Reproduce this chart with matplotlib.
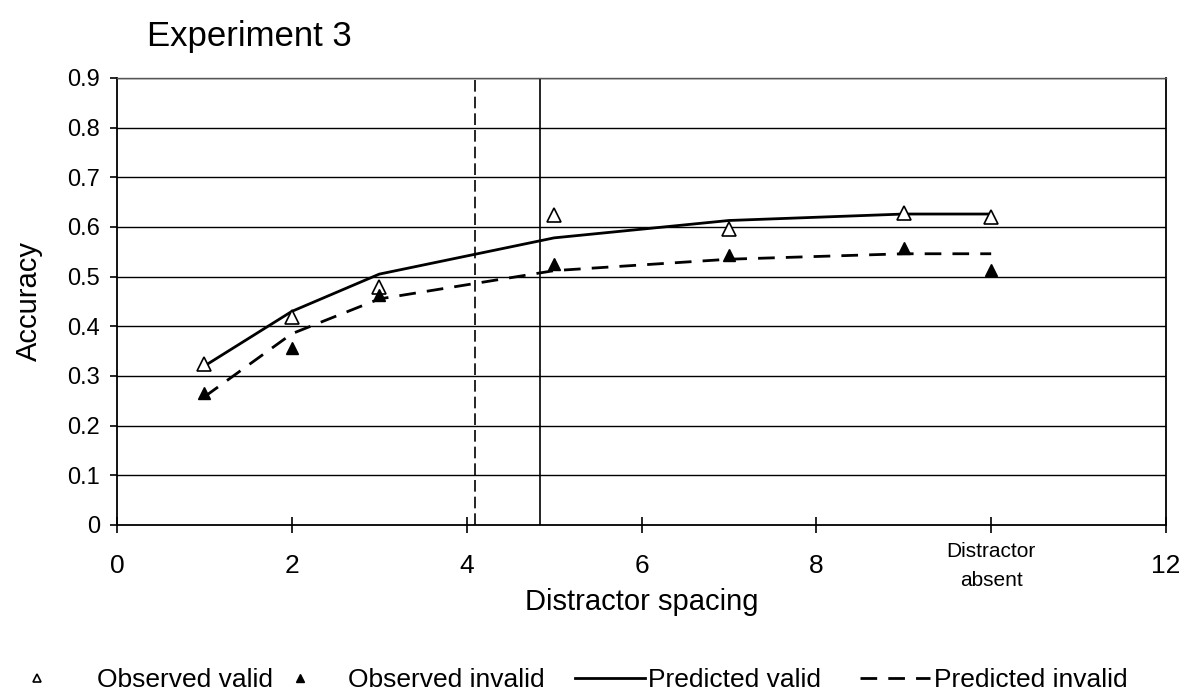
import matplotlib
matplotlib.use('Agg')
import matplotlib.pyplot as plt

plt.rcParams['font.family'] = ['Liberation Sans', 'DejaVu Sans']

# distractor spacing (10 = distractor absent)
x_obs = [1, 2, 3, 5, 7, 9, 10]
obs_valid = [0.325, 0.418, 0.48, 0.625, 0.596, 0.628, 0.620]
obs_invalid = [0.266, 0.356, 0.462, 0.525, 0.543, 0.557, 0.513]
pred_valid = [0.320, 0.430, 0.505, 0.578, 0.613, 0.626, 0.626]
pred_invalid = [0.258, 0.385, 0.455, 0.512, 0.535, 0.546, 0.546]

# critical spacing estimates
crit_dashed = 4.1
crit_solid = 4.84

xticks = [0, 2, 4, 6, 8, 10, 12]
xticklabels = ['0', '2', '4', '6', '8', 'Distractor\nabsent', '12']
yticks = [0, 0.1, 0.2, 0.3, 0.4, 0.5, 0.6, 0.7, 0.8, 0.9]

fig = plt.figure(figsize=(11.87, 6.98), dpi=100)
ax = fig.add_axes([0.0986, 0.248, 0.8837, 0.6403])

for y in yticks[1:]:
    ax.axhline(y, color='black', lw=1.0, zorder=1)

ax.plot([crit_dashed, crit_dashed], [0, 0.9], color='black', lw=1.2,
        dashes=(7, 3), zorder=2)
ax.plot([crit_solid, crit_solid], [0, 0.9], color='black', lw=1.2, zorder=2)

l_pv, = ax.plot(x_obs, pred_valid, '-', color='black', lw=2.0, zorder=3,
                label='Predicted valid')
l_pi, = ax.plot(x_obs, pred_invalid, color='black', lw=2.0, dashes=(6, 4),
                zorder=3, label='Predicted invalid')
m_ov, = ax.plot(x_obs, obs_valid, '^', ls='none', ms=10, mfc='white',
                mec='black', mew=1.2, zorder=4, label='Observed valid')
m_oi, = ax.plot(x_obs, obs_invalid, '^', ls='none', ms=9, color='black',
                zorder=4, label='Observed invalid')

ax.set_xlim(0, 12)
ax.set_ylim(0, 0.9)
ax.set_xticks(xticks)
ax.set_xticklabels(xticklabels)
ax.set_yticks(yticks)
ax.set_yticklabels(['0'] + ['%.1f' % v for v in yticks[1:]])
ax.tick_params(axis='y', direction='out', length=5, width=1.2, labelsize=17, pad=7)
ax.tick_params(axis='x', direction='inout', length=11, width=1.2, labelsize=19, pad=24)
for lab in ax.get_xticklabels():
    lab.set_va('center')
    if 'Distractor' in lab.get_text():
        lab.set_fontsize(15)
        lab.set_linespacing(1.7)

for s in ax.spines.values():
    s.set_linewidth(1.3)
ax.spines['top'].set_linewidth(1.0)
ax.spines['top'].set_color('#555555')

ax.set_xlabel('Distractor spacing', fontsize=21, va='center')
ax.xaxis.set_label_coords(0.5, -0.172)
ax.set_ylabel('Accuracy', fontsize=21, labelpad=18)

fig.text(0.124, 0.947, 'Experiment 3', fontsize=25, va='center', ha='left')

# one legend per entry so each can sit where it belongs along the bottom
entries = [
    (m_ov, 'Observed valid', 2, 0.95),
    (m_oi, 'Observed invalid', 265, 0.5),
    (l_pv, 'Predicted valid', 575, 0.1),
    (l_pi, 'Predicted invalid', 860, 0.15),
]
for h, txt, xpix, tpad in entries:
    leg = fig.legend(handles=[h], labels=[txt], loc='center left',
                     bbox_to_anchor=(xpix / 1187, 1 - 680 / 698),
                     frameon=False, fontsize=19, markerscale=0.6,
                     handlelength=2.65, handletextpad=tpad,
                     borderpad=0, borderaxespad=0)

fig.savefig('out.png', dpi=100)
